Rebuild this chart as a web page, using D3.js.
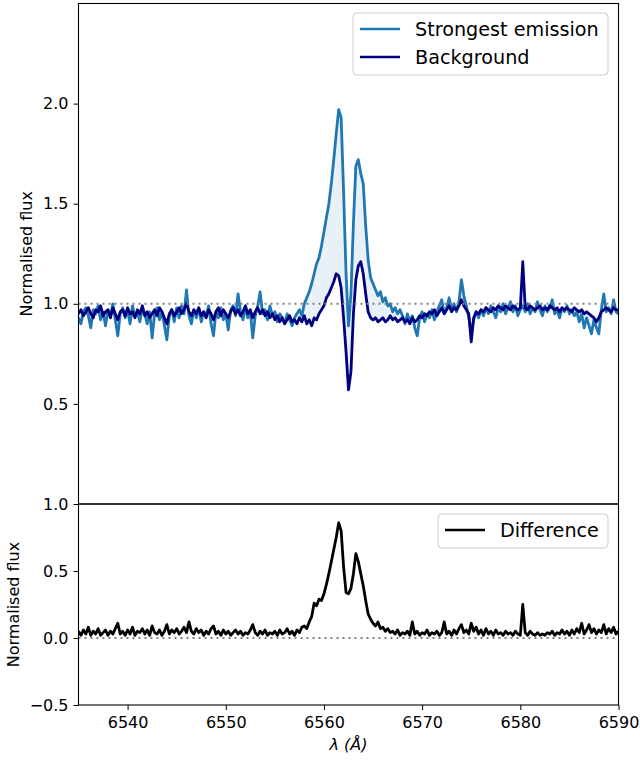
<!DOCTYPE html>
<html>
<head>
<meta charset="utf-8">
<script src="https://cdn.jsdelivr.net/npm/d3@7"></script>
<style>
body { margin: 0; background: #fff; }
text { font-family: 'DejaVu Sans', sans-serif; fill: #000; }
</style>
</head>
<body>
<script>
// wavelength grid of the spectra (Angstrom)
const lamStart = 6535;
const lamStep = 0.25;

const strongest = [
    0.93, 0.90, 0.96, 0.98, 0.94, 0.88, 0.97, 0.95, 0.99, 0.92,
    0.96, 0.89, 0.97, 0.94, 1.00, 0.92, 0.84, 0.95, 0.98, 0.93,
    0.97, 0.90, 0.99, 0.94, 0.96, 0.91, 0.98, 0.95, 0.90, 0.96,
    0.83, 0.95, 0.98, 0.92, 0.96, 0.89, 0.82, 0.94, 0.97, 0.91,
    0.98, 0.93, 0.99, 0.95, 1.07, 0.94, 0.90, 0.97, 0.93, 0.98,
    0.91, 0.96, 0.94, 0.99, 0.90, 0.84, 0.96, 0.93, 0.98, 0.92,
    0.95, 0.87, 0.97, 0.99, 0.94, 1.05, 0.96, 0.92, 0.98, 0.93,
    0.96, 0.83, 0.94, 0.99, 1.06, 0.95, 0.97, 0.92, 0.99, 0.94,
    0.96, 0.91, 0.95, 0.93, 0.90, 0.95, 0.92, 0.89, 0.93, 0.95,
    0.97, 0.94, 1.00, 1.03, 1.06, 1.10, 1.15, 1.20, 1.23, 1.29,
    1.36, 1.43, 1.50, 1.60, 1.72, 1.85, 1.97, 1.93, 1.56, 1.15,
    0.89, 1.05, 1.40, 1.69, 1.72, 1.65, 1.60, 1.39, 1.22, 1.13,
    1.10, 1.07, 1.04, 1.06, 1.01, 1.03, 0.99, 1.00, 0.96, 0.98,
    0.95, 0.97, 0.94, 0.90, 0.95, 0.91, 0.94, 0.88, 0.84, 0.93,
    0.96, 0.91, 0.95, 0.93, 0.97, 0.92, 0.96, 0.99, 1.02, 0.95,
    0.98, 1.03, 0.97, 1.00, 0.96, 1.01, 1.12, 1.04, 0.99, 0.93,
    0.86, 0.92, 0.96, 0.93, 0.97, 0.94, 0.98, 0.95, 0.99, 0.96,
    0.93, 0.98, 0.96, 1.00, 0.95, 0.98, 1.01, 0.96, 0.99, 0.94,
    0.97, 0.99, 0.96, 1.00, 0.95, 0.98, 0.96, 1.01, 0.97, 0.94,
    0.99, 0.96, 0.98, 1.02, 0.95, 0.97, 0.93, 0.98, 0.96, 0.99,
    0.95, 0.97, 0.94, 0.96, 0.91, 0.95, 0.88, 0.93, 0.89, 0.85,
    0.92, 0.88, 0.85, 0.97, 1.05, 0.96, 0.98, 0.95, 1.02, 0.96,
    0.95
];

const background = [
    0.95, 0.97, 0.94, 0.96, 0.98, 0.95, 0.93, 0.97, 0.96, 0.99,
    0.94, 0.96, 0.97, 0.93, 0.98, 0.95, 0.92, 0.96, 0.97, 0.94,
    0.98, 0.95, 0.96, 0.93, 0.97, 0.95, 0.99, 0.94, 0.96, 0.93,
    0.95, 0.97, 0.94, 0.98, 0.96, 0.93, 0.90, 0.95, 0.97, 0.94,
    0.96, 0.98, 0.95, 0.97, 1.00, 0.96, 0.94, 0.97, 0.95, 0.98,
    0.94, 0.96, 0.93, 0.97, 0.95, 0.92, 0.96, 0.98, 0.94, 0.97,
    0.95, 0.93, 0.96, 0.98, 0.95, 0.97, 0.94, 0.96, 0.99, 0.95,
    0.97, 0.93, 0.96, 0.98, 0.95, 0.97, 0.94, 0.96, 0.93, 0.95,
    0.92, 0.94, 0.91, 0.93, 0.90, 0.92, 0.94, 0.91, 0.92, 0.90,
    0.93, 0.91, 0.94, 0.90, 0.92, 0.89, 0.93, 0.92, 0.95, 0.97,
    0.99, 1.03, 1.05, 1.08, 1.11, 1.15, 1.14, 1.08, 0.93, 0.76,
    0.57, 0.66, 0.95, 1.12, 1.19, 1.21, 1.15, 1.05, 0.96, 0.93,
    0.92, 0.93, 0.91, 0.92, 0.93, 0.91, 0.92, 0.94, 0.92, 0.93,
    0.91, 0.92, 0.93, 0.91, 0.92, 0.90, 0.93, 0.91, 0.92, 0.94,
    0.93, 0.95, 0.94, 0.96, 0.95, 0.97, 0.94, 0.96, 0.98, 0.95,
    0.97, 0.99, 0.96, 0.98, 0.97, 0.99, 1.02, 0.99, 0.97, 0.95,
    0.81, 0.93, 0.96, 0.95, 0.97, 0.96, 0.98, 0.97, 0.96, 0.98,
    0.97, 0.99, 0.98, 0.97, 0.99, 0.98, 0.97, 0.99, 0.98, 0.97,
    0.98, 1.21, 0.98, 0.97, 0.99, 0.98, 0.97, 0.98, 0.99, 0.97,
    0.98, 0.97, 0.99, 0.98, 0.97, 0.98, 0.96, 0.98, 0.97, 0.98,
    0.97, 0.96, 0.98, 0.97, 0.96, 0.97, 0.95, 0.96, 0.95, 0.94,
    0.93, 0.91, 0.93, 0.96, 0.97, 0.98, 0.97, 0.96, 0.98, 0.97,
    0.97
];

const difference = [
    0.05, 0.02, 0.06, 0.03, 0.08, 0.02, 0.05, 0.03, 0.07, 0.02,
    0.04, 0.06, 0.02, 0.05, 0.03, 0.07, 0.11, 0.03, 0.05, 0.02,
    0.06, 0.03, 0.08, 0.02, 0.05, 0.04, 0.07, 0.03, 0.06, 0.02,
    0.09, 0.04, 0.03, 0.06, 0.02, 0.05, 0.10, 0.03, 0.06, 0.04,
    0.07, 0.03, 0.05, 0.08, 0.04, 0.12, 0.05, 0.03, 0.07, 0.04,
    0.06, 0.02, 0.05, 0.03, 0.07, 0.09, 0.03, 0.05, 0.02, 0.06,
    0.03, 0.05, 0.02, 0.04, 0.06, 0.03, 0.05, 0.02, 0.04, 0.03,
    0.06, 0.10, 0.04, 0.02, 0.05, 0.03, 0.06, 0.02, 0.04, 0.03,
    0.05, 0.02, 0.06, 0.03, 0.04, 0.07, 0.03, 0.05, 0.02, 0.06,
    0.04, 0.08, 0.09, 0.07, 0.12, 0.16, 0.26, 0.24, 0.29, 0.28,
    0.33, 0.40, 0.48, 0.57, 0.66, 0.75, 0.86, 0.80, 0.53, 0.34,
    0.33, 0.37, 0.48, 0.63, 0.57, 0.48, 0.39, 0.28, 0.18, 0.14,
    0.11, 0.09, 0.12, 0.07, 0.08, 0.05, 0.07, 0.04, 0.05, 0.03,
    0.06, 0.02, 0.04, 0.03, 0.05, 0.02, 0.12, 0.03, 0.05, 0.02,
    0.04, 0.03, 0.06, 0.02, 0.04, 0.03, 0.05, 0.02, 0.04, 0.12,
    0.03, 0.05, 0.02, 0.06, 0.03, 0.07, 0.10, 0.04, 0.06, 0.03,
    0.11, 0.05, 0.08, 0.03, 0.06, 0.02, 0.07, 0.03, 0.05, 0.02,
    0.06, 0.03, 0.04, 0.02, 0.05, 0.03, 0.04, 0.02, 0.05, 0.03,
    0.02, 0.25, 0.04, 0.02, 0.05, 0.03, 0.02, 0.04, 0.02, 0.03,
    0.02, 0.04, 0.03, 0.05, 0.02, 0.04, 0.03, 0.06, 0.03, 0.05,
    0.02, 0.06, 0.03, 0.07, 0.04, 0.11, 0.03, 0.06, 0.10, 0.04,
    0.07, 0.03, 0.06, 0.04, 0.10, 0.03, 0.07, 0.04, 0.08, 0.03,
    0.05
];

const xTicks = [6540, 6550, 6560, 6570, 6580, 6590];
const topTicks = [0.5, 1.0, 1.5, 2.0];
const bottomTicks = [-0.5, 0.0, 0.5, 1.0];
const topLegend = ['Strongest emission', 'Background'];
const bottomLegend = ['Difference'];

let width = 640;
let height = 760;
const left = 78.5, right = 618.5;
const topY0 = 3.5, topY1 = 504, botY1 = 705;

const svg = d3.select('body')
    .append('svg')
    .attr('width', width)
    .attr('height', height)

const x = d3.scaleLinear().domain([6535, 6590]).range([left, right]);
const yTop = d3.scaleLinear().domain([0, 2.5]).range([topY1, topY0]);
const yBot = d3.scaleLinear().domain([-0.5, 1.0]).range([botY1, topY1]);

const lam = (d, i) => x(lamStart + i * lamStep);

svg.append('clipPath').attr('id', 'clipTop')
    .append('rect').attr('x', left).attr('y', topY0).attr('width', right - left).attr('height', topY1 - topY0);
svg.append('clipPath').attr('id', 'clipBot')
    .append('rect').attr('x', left).attr('y', topY1).attr('width', right - left).attr('height', botY1 - topY1);

// ---- top panel
const gTop = svg.append('g').attr('clip-path', 'url(#clipTop)');

gTop.append('path')
    .datum(strongest)
    .attr('fill', '#1f77b4')
    .attr('fill-opacity', 0.1)
    .attr('d', d3.area().x(lam).y0((d, i) => yTop(background[i])).y1(d => yTop(d)));

gTop.append('path')
    .datum(strongest)
    .attr('fill', 'none')
    .attr('stroke', '#1f77b4')
    .attr('stroke-width', 2.8)
    .attr('stroke-linejoin', 'round')
    .attr('d', d3.line().x(lam).y(d => yTop(d)));

gTop.append('path')
    .datum(background)
    .attr('fill', 'none')
    .attr('stroke', '#000080')
    .attr('stroke-width', 2.8)
    .attr('stroke-linejoin', 'round')
    .attr('d', d3.line().x(lam).y(d => yTop(d)));

gTop.append('line')
    .attr('x1', left).attr('x2', right)
    .attr('y1', yTop(1)).attr('y2', yTop(1))
    .attr('stroke', 'grey')
    .attr('stroke-width', 2)
    .attr('stroke-dasharray', '2,4');

// ---- bottom panel
const gBot = svg.append('g').attr('clip-path', 'url(#clipBot)');

gBot.append('line')
    .attr('x1', left).attr('x2', right)
    .attr('y1', yBot(0)).attr('y2', yBot(0))
    .attr('stroke', 'grey')
    .attr('stroke-width', 2)
    .attr('stroke-dasharray', '2,4');

gBot.append('path')
    .datum(difference)
    .attr('fill', 'none')
    .attr('stroke', '#000')
    .attr('stroke-width', 2.8)
    .attr('stroke-linejoin', 'round')
    .attr('d', d3.line().x(lam).y(d => yBot(d)));

// ---- axes
function styleAxis(g) {
    g.select('.domain').remove();
    g.selectAll('.tick line').attr('stroke', '#000').attr('stroke-width', 1);
    g.selectAll('.tick text').attr('font-size', 16).attr('font-family', 'DejaVu Sans');
}

svg.append('g')
    .attr('transform', `translate(${left},0)`)
    .call(d3.axisLeft(yTop).tickValues(topTicks).tickFormat(d3.format('.1f')).tickSize(5).tickPadding(5))
    .call(styleAxis);

svg.append('g')
    .attr('transform', `translate(${left},0)`)
    .call(d3.axisLeft(yBot).tickValues(bottomTicks).tickFormat(d3.format('.1f')).tickSize(5).tickPadding(5))
    .call(styleAxis);

svg.append('g')
    .attr('transform', `translate(0,${botY1})`)
    .call(d3.axisBottom(x).tickValues(xTicks).tickFormat(d3.format('d')).tickSize(5).tickPadding(7))
    .call(styleAxis);

// frames
svg.append('rect')
    .attr('x', left).attr('y', topY0)
    .attr('width', right - left).attr('height', topY1 - topY0)
    .attr('fill', 'none').attr('stroke', '#000').attr('stroke-width', 1.1);
svg.append('rect')
    .attr('x', left).attr('y', topY1)
    .attr('width', right - left).attr('height', botY1 - topY1)
    .attr('fill', 'none').attr('stroke', '#000').attr('stroke-width', 1.1);

// axis labels
svg.append('text')
    .attr('transform', `translate(31.5,${(topY0 + topY1) / 2}) rotate(-90)`)
    .attr('text-anchor', 'middle')
    .attr('font-size', 16)
    .text('Normalised flux');
svg.append('text')
    .attr('transform', `translate(19,${(topY1 + botY1) / 2}) rotate(-90)`)
    .attr('text-anchor', 'middle')
    .attr('font-size', 16)
    .text('Normalised flux');
svg.append('text')
    .attr('x', (left + right) / 2)
    .attr('y', 750)
    .attr('text-anchor', 'middle')
    .attr('font-size', 16)
    .attr('font-style', 'italic')
    .text('λ (Å)');

// legends
function legend(box, items, colors) {
    const g = svg.append('g');
    g.append('rect')
        .attr('x', box[0]).attr('y', box[1])
        .attr('width', box[2]).attr('height', box[3])
        .attr('rx', 4)
        .attr('fill', '#fff').attr('fill-opacity', 0.8)
        .attr('stroke', '#ccc').attr('stroke-width', 1);
    items.forEach((name, i) => {
        const yy = box[1] + 16 + i * 28;
        g.append('line')
            .attr('x1', box[0] + 7).attr('x2', box[0] + 47)
            .attr('y1', yy).attr('y2', yy)
            .attr('stroke', colors[i]).attr('stroke-width', 2.5);
        g.append('text')
            .attr('x', box[0] + 62).attr('y', yy + 7)
            .attr('font-size', 19.2)
            .text(name);
    });
}

legend([353, 13, 255, 62], topLegend, ['#1f77b4', '#000080']);
legend([438, 514, 170, 34], bottomLegend, ['#000']);
</script>
</body>
</html>
